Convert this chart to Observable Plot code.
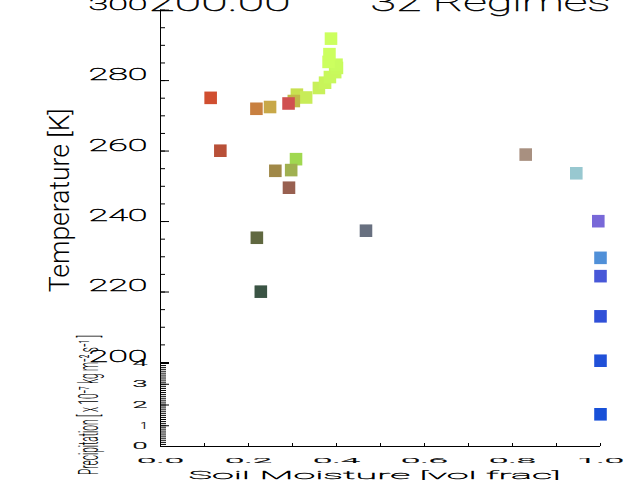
<!DOCTYPE html>
<html><head><meta charset="utf-8">
<script src="https://cdn.jsdelivr.net/npm/d3@7"></script>
<script src="https://cdn.jsdelivr.net/npm/@observablehq/plot@0.6"></script>
<style>
body{margin:0;background:#fff;}
#chart{position:relative;width:640px;height:480px;overflow:hidden;background:#fff;}
#chart svg{position:absolute;left:0;top:0;}
</style></head><body><div id="chart"></div>
<script>
// ---- data ----
const soilMoisture = [
  0.310, 0.331, 0.360, 0.374, 0.385, 0.397, 0.401, 0.400, 0.382, 0.384, 0.3875,
  0.303, 0.114, 0.218, 0.249, 0.291,
  0.136, 0.308, 0.261, 0.297, 0.292, 0.219, 0.228, 0.467, 0.830,
  0.945, 0.995, 1.000, 1.000, 1.000, 1.000, 1.000
];
const temperature = [
  276.0, 275.2, 277.9, 279.4, 281.0, 282.4, 283.6, 284.5, 285.3, 287.5, 291.9,
  274.2, 275.1, 272.0, 272.5, 273.5,
  260.1, 257.7, 254.4, 254.6, 249.6, 235.4, 220.1, 237.4, 259.0,
  253.7, 240.1, 229.7, 224.5, 213.1, 200.5, 185.3
];
const regimeColors = [
  "#c8e050", "#c8ec58", "#c8f05a", "#c8f45a", "#c8f85c", "#c8f85c", "#c8fa5c", "#c8fc5e", "#ccff5f", "#ccff5f", "#ccff5f",
  "#c0b848", "#d04e30", "#c88040", "#c8a848", "#d05050",
  "#b85038", "#a0d850", "#a08848", "#a0b050", "#986050", "#606840", "#3a5444", "#687080", "#a89080",
  "#98c8d0", "#7868d8", "#5090d8", "#4858d8", "#3050d8", "#2050d8", "#1850d8"
];
const tempTicks = [200, 220, 240, 260, 280, 300];
const tempMinorTicks = d3.range(200, 301, 5);
const precipTicks = [0, 1, 2, 3, 4];
const precipMinorTicks = d3.range(0, 41, 1).map(d => d / 10);
const smTicks = [0, 0.2, 0.4, 0.6, 0.8, 1.0];
const smMinorTicks = d3.range(0, 11, 1).map(d => d / 10);
const titleLeft = "200.00";
const titleRight = "32 Regimes";
const yLabel = "Temperature [K]";
const precipLabel = "Precipitation [ x 10⁻⁷ kg m⁻² s⁻¹ ]";
const xLabel = "Soil Moisture [vol frac]";

const regimes = soilMoisture.map((x, i) => ({x, t: temperature[i], c: regimeColors[i]}));
const FONT = "Roboto, 'DejaVu Sans', sans-serif";

const upperPanel = Plot.plot({
  width: 640, height: 480,
  marginLeft: 160, marginRight: 40, marginTop: 9.6, marginBottom: 118,
  x: {domain: [0, 1], axis: null},
  y: {domain: [200, 300], label: null},
  color: {type: "identity"},
  style: {background: "transparent", fontFamily: FONT, color: "#000"},
  marks: [
    Plot.ruleX([0], {y1: tempTicks[0], y2: tempTicks[tempTicks.length - 1], stroke: "#000"}),
    Plot.axisY({ticks: tempMinorTicks, tickSize: -5, tickFormat: () => "", label: null}),
    Plot.axisY({ticks: tempTicks, tickSize: -9, tickFormat: () => "", label: null}),
    Plot.axisY({ticks: tempTicks, tickSize: 0, tickPadding: 13, dy: -6, fontSize: 17, fontWeight: 100,
      tickFormat: d3.format("d"), label: null}),
    Plot.dot(regimes, {x: "x", y: "t", fill: "c", symbol: "square", r: 7.1}),
    Plot.text([titleLeft], {frameAnchor: "top-left", dx: -12, dy: 1, textAnchor: "start", lineAnchor: "bottom",
      fontSize: 26, fontWeight: 100}),
    Plot.text([titleRight], {frameAnchor: "top-left", dx: 210, dy: 1, textAnchor: "start", lineAnchor: "bottom",
      fontSize: 26, fontWeight: 100}),
    Plot.text([yLabel], {frameAnchor: "left", rotate: -90, dx: -92, dy: 14, textAnchor: "middle", lineAnchor: "bottom",
      fontSize: 27, fontWeight: 300})
  ]
});

const lowerPanel = Plot.plot({
  width: 640, height: 480,
  marginLeft: 160, marginRight: 40, marginTop: 363, marginBottom: 34,
  x: {domain: [0, 1], label: null},
  y: {domain: [0, 4], label: null},
  style: {background: "transparent", fontFamily: FONT, color: "#000"},
  marks: [
    Plot.ruleX([0], {stroke: "#000"}),
    Plot.ruleY([0], {stroke: "#000"}),
    Plot.axisY({ticks: precipMinorTicks, tickSize: -6, tickFormat: () => "", label: null}),
    Plot.axisY({ticks: precipTicks, tickSize: -9, tickFormat: () => "", label: null}),
    Plot.axisY({ticks: precipTicks, tickSize: 0, tickPadding: 13, fontSize: 9, fontWeight: 300,
      tickFormat: d3.format("d"), label: null}),
    Plot.axisX({ticks: smMinorTicks, tickSize: -3, tickFormat: () => "", label: null}),
    Plot.axisX({ticks: smTicks, tickSize: 0, tickPadding: 11, fontSize: 8, fontWeight: 300,
      tickFormat: d3.format(".1f"), label: null}),
    Plot.text([xLabel], {frameAnchor: "bottom", dx: -6, dy: 32, lineAnchor: "bottom", fontSize: 11, fontWeight: 100}),
    Plot.text([precipLabel], {frameAnchor: "left", rotate: -90, dx: -63, dy: 0, textAnchor: "middle", lineAnchor: "bottom",
      fontSize: 27, fontWeight: 300})
  ]
});

// stretch texts horizontally so that they match the wide / narrow vector font of the reference,
// and give the thin ones a hairline outline so they read as crisp black strokes
function stretch(svg, lengths) {
  svg.querySelectorAll("text").forEach(t => {
    const spec = lengths.get(t.textContent);
    if (!spec) return;
    const [len, outline] = spec;
    t.setAttribute("textLength", len);
    t.setAttribute("lengthAdjust", "spacingAndGlyphs");
    if (outline) { t.setAttribute("stroke", "#000"); t.setAttribute("stroke-width", outline); }
  });
}
stretch(upperPanel, new Map([
  ...tempTicks.map(d => [String(d), [59, 0.45]]),
  [titleLeft, [142, 0.45]], [titleRight, [240, 0.45]], [yLabel, [184, 0]]
]));
stretch(lowerPanel, new Map([
  ...precipTicks.map(d => [String(d), [d === 1 ? 7 : 15, 0.2]]),
  ...smTicks.map(d => [d3.format(".1f")(d), [47, 0.2]]),
  [xLabel, [372, 0.35]], [precipLabel, [140, 0]]
]));

document.getElementById("chart").append(lowerPanel, upperPanel);
</script></body></html>
